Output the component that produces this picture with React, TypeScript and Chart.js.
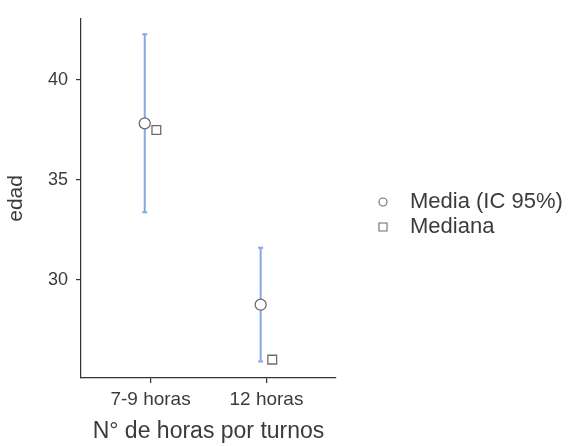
import React, { useEffect, useRef } from "react";
import { Chart, registerables } from "chart.js";

Chart.register(...registerables);

const categories = ["7-9 horas", "12 horas"];
const means = [37.83, 28.75];
const ciLow = [33.38, 25.91];
const ciHigh = [42.3, 31.6];
const medians = [37.5, 26.0];
const yTicks = [30, 35, 40];
const legendLabels = ["Media (IC 95%)", "Mediana"];

const DODGE = 0.05;
const FONT = "'Liberation Sans', Arial, Helvetica, sans-serif";
const TEXT = "#3b3b3b";
const AXIS = "#333333";
const BAR = "#85a8e7";
const MARK = "#6b6b6b";

const errorBarPlugin = {
  id: "errorBars",
  beforeDatasetsDraw(chart: any) {
    const { ctx, scales } = chart;
    const xs = scales.x;
    const ys = scales.y;
    ctx.save();
    ctx.strokeStyle = BAR;
    ctx.lineWidth = 2;
    categories.forEach((_, i) => {
      const x = xs.getPixelForValue(i + 1 - DODGE);
      const y1 = ys.getPixelForValue(ciHigh[i]);
      const y2 = ys.getPixelForValue(ciLow[i]);
      ctx.beginPath();
      ctx.moveTo(x, y1);
      ctx.lineTo(x, y2);
      ctx.moveTo(x - 2.5, y1);
      ctx.lineTo(x + 2.5, y1);
      ctx.moveTo(x - 2.5, y2);
      ctx.lineTo(x + 2.5, y2);
      ctx.stroke();
    });
    ctx.restore();
  },
};

const legendPlugin = {
  id: "customLegend",
  afterDraw(chart: any) {
    const { ctx } = chart;
    ctx.save();
    const mx = 383;
    const rows = [202, 227];
    ctx.strokeStyle = MARK;
    ctx.fillStyle = "#ffffff";
    ctx.lineWidth = 1.1;
    ctx.beginPath();
    ctx.arc(mx, rows[0], 4, 0, Math.PI * 2);
    ctx.fill();
    ctx.stroke();
    ctx.beginPath();
    ctx.rect(mx - 4, rows[1] - 4, 8, 8);
    ctx.fill();
    ctx.stroke();
    ctx.fillStyle = TEXT;
    ctx.font = `22px ${FONT}`;
    ctx.textBaseline = "middle";
    ctx.textAlign = "left";
    legendLabels.forEach((t, i) => ctx.fillText(t, 410, rows[i]));
    ctx.restore();
  },
};

export default function App() {
  const ref = useRef<HTMLCanvasElement | null>(null);
  useEffect(() => {
    if (!ref.current) return;
    const chart = new Chart(ref.current, {
      type: "scatter",
      data: {
        datasets: [
          {
            label: legendLabels[0],
            data: means.map((m, i) => ({ x: i + 1 - DODGE, y: m })),
            pointStyle: "circle",
            pointRadius: 5.5,
            backgroundColor: "#ffffff",
            borderColor: MARK,
            borderWidth: 1.3,
          },
          {
            label: legendLabels[1],
            data: medians.map((m, i) => ({ x: i + 1 + DODGE, y: m })),
            pointStyle: "rect",
            pointRadius: 6.2,
            backgroundColor: "#ffffff",
            borderColor: MARK,
            borderWidth: 1.3,
          },
        ],
      },
      options: {
        responsive: false,
        animation: false,
        devicePixelRatio: 1,
        layout: { padding: { top: 18, right: 238, left: 0, bottom: 0 } },
        plugins: { legend: { display: false }, tooltip: { enabled: false } },
        scales: {
          x: {
            type: "linear",
            min: 0.4,
            max: 2.6,
            afterBuildTicks: (s: any) => {
              s.ticks = categories.map((_, i) => ({ value: i + 1 }));
            },
            afterFit: (s: any) => {
              s.height = 68;
            },
            ticks: {
              callback: (v: any) => categories[Math.round(v) - 1] ?? "",
              color: TEXT,
              font: { family: FONT, size: 19 },
              padding: 5,
              maxRotation: 0,
            },
            grid: {
              drawOnChartArea: false,
              drawTicks: true,
              tickLength: 5,
              color: AXIS,
              lineWidth: 1.2,
            },
            border: { color: AXIS, width: 1.2 },
            title: {
              display: true,
              text: "N° de horas por turnos",
              color: TEXT,
              font: { family: FONT, size: 23 },
              padding: { top: 0, bottom: 1 },
            },
          },
          y: {
            type: "linear",
            min: 25.08,
            max: 43.07,
            afterBuildTicks: (s: any) => {
              s.ticks = yTicks.map((v) => ({ value: v }));
            },
            afterFit: (s: any) => {
              s.width = 81;
            },
            ticks: {
              color: TEXT,
              font: { family: FONT, size: 18 },
              padding: 8,
            },
            grid: {
              drawOnChartArea: false,
              drawTicks: true,
              tickLength: 5,
              color: AXIS,
              lineWidth: 1.2,
            },
            border: { color: AXIS, width: 1.2 },
            title: {
              display: true,
              text: "edad",
              color: TEXT,
              font: { family: FONT, size: 21 },
              padding: { top: 4, bottom: 0 },
            },
          },
        },
      },
      plugins: [errorBarPlugin, legendPlugin],
    });
    return () => chart.destroy();
  }, []);
  return (
    <div style={{ position: "absolute", left: 0, top: 0, width: 574, height: 446, background: "#fff" }}>
      <canvas ref={ref} width={574} height={446} />
    </div>
  );
}
